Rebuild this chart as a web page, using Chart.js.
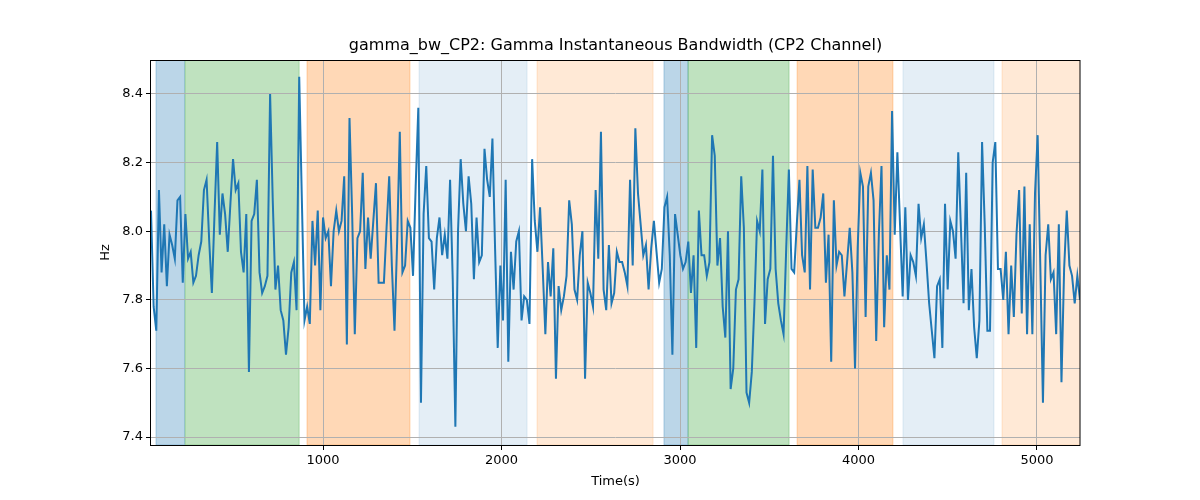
<!DOCTYPE html>
<html>
<head>
<meta charset="utf-8">
<script src="https://cdn.jsdelivr.net/npm/chart.js@4.4.0/dist/chart.umd.min.js"></script>
<style>
html,body{margin:0;padding:0;background:#fff;}
canvas{display:block;}
</style>
</head>
<body>
<canvas id="c" width="1200" height="500"></canvas>
<script>
// ---- data ----
const bwValues = [
 8.06,7.78,7.71,8.12,7.88,8.02,7.84,7.99,7.96,7.92,8.09,8.10,7.85,8.05,7.92,7.94,7.85,7.87,7.93,7.97,8.12,8.15,7.97,7.82,8.05,8.26,7.99,8.11,8.05,7.94,8.08,8.21,8.12,8.14,7.94,7.88,
 8.05,7.59,8.03,8.05,8.15,7.88,7.82,7.84,7.87,8.40,8.09,7.83,7.90,7.77,7.74,7.64,7.72,7.88,7.91,7.77,8.45,8.09,7.74,7.78,7.73,8.03,7.90,8.06,7.77,8.04,7.98,8.00,7.84,8.00,8.06,8.00,
 8.03,8.16,7.67,8.33,8.05,7.70,7.98,8.00,8.17,7.89,8.04,7.92,8.03,8.14,7.85,7.85,7.85,8.01,8.16,7.90,7.71,7.97,8.29,7.88,7.90,8.03,8.01,7.87,8.13,8.36,7.50,8.05,8.19,7.98,7.97,
 7.83,7.98,8.04,7.93,7.99,7.92,8.15,7.86,7.43,8.00,8.21,8.08,8.00,8.16,8.08,7.86,8.04,7.91,7.93,8.24,8.15,8.10,8.27,7.95,7.66,7.90,7.74,8.15,7.62,7.94,7.83,7.97,8.00,7.74,7.81,7.80,
 7.73,8.21,8.03,7.94,8.07,7.89,7.70,7.91,7.81,7.95,7.57,7.84,7.77,7.81,7.87,8.09,8.02,7.83,7.80,7.93,8.00,7.57,7.85,7.82,7.78,8.12,7.92,8.29,7.83,7.77,7.96,7.79,7.82,7.94,7.91,7.91,
 7.88,7.84,8.15,7.90,8.30,8.11,8.02,7.93,7.96,7.83,7.95,8.03,7.94,7.85,7.89,8.07,8.10,7.93,7.64,8.05,7.99,7.93,7.89,7.91,7.97,7.82,7.93,7.66,8.06,7.93,7.93,7.87,7.91,8.28,8.22,
 7.90,7.98,7.78,7.69,8.00,7.54,7.60,7.83,7.86,8.16,8.01,7.53,7.50,7.59,7.79,8.03,8.00,8.18,7.73,7.86,7.89,8.22,7.89,7.79,7.74,7.70,7.95,8.18,7.89,7.88,8.02,8.15,7.93,7.88,8.19,7.83,
 8.18,8.01,8.01,8.04,8.11,7.85,7.99,7.62,8.09,7.90,7.94,7.93,7.81,7.91,8.01,7.88,7.60,7.95,8.17,8.13,7.75,8.13,8.17,8.09,7.68,7.99,8.19,7.72,7.93,7.83,8.35,7.99,8.23,8.02,7.81,8.07,
 7.80,7.93,7.91,7.87,8.08,7.98,8.02,7.91,7.79,7.71,7.63,7.84,7.86,7.66,8.08,7.83,8.03,8.00,7.92,8.23,8.01,7.79,8.17,7.77,7.89,7.72,7.63,7.74,8.26,8.02,7.71,7.71,8.20,8.26,7.89,7.89,7.80,7.94,
 7.70,7.90,7.75,7.99,8.12,7.76,8.13,7.70,8.02,7.70,8.11,8.28,7.90,7.50,7.93,8.02,7.86,7.88,7.70,8.02,7.56,7.89,8.06,7.90,7.87,7.79,7.87,7.80
];
const timeStart = 36;     // s, first sample
const timeEnd = 5241;     // s, last sample
const xTicks = [1000, 2000, 3000, 4000, 5000];
const yTicks = [7.4, 7.6, 7.8, 8.0, 8.2, 8.4];
const yMin = 7.377, yMax = 8.499;
// shaded phases: start, end (s) and kind
const spanStarts = [64, 227, 910, 1538, 2199, 2910, 3045, 3656, 4249, 4804];
const spanEnds   = [224, 866, 1487, 2143, 2849, 3045, 3611, 4193, 4759, 5260];
const spanKinds  = ['blue','green','orange','lightblue','lightorange','blue','green','orange','lightblue','lightorange'];
const spanColors = {
  blue: 'rgba(31,119,180,0.3)',
  green: 'rgba(44,160,44,0.3)',
  orange: 'rgba(255,127,14,0.3)',
  lightblue: 'rgba(31,119,180,0.12)',
  lightorange: 'rgba(255,127,14,0.17)'
};
const titleText = 'gamma_bw_CP2: Gamma Instantaneous Bandwidth (CP2 Channel)';

const dt = (timeEnd - timeStart) / (bwValues.length - 1);
const points = bwValues.map((v, i) => ({x: timeStart + i * dt, y: v}));

const FONT = "'DejaVu Sans', sans-serif";

const spansPlugin = {
  id: 'spans',
  beforeDraw(chart) {
    const {ctx, chartArea: a, scales: {x}} = chart;
    ctx.save();
    ctx.beginPath();
    ctx.rect(a.left, a.top, a.right - a.left, a.bottom - a.top);
    ctx.clip();
    for (let i = 0; i < spanStarts.length; i++) {
      const x0 = x.getPixelForValue(spanStarts[i]);
      const x1 = x.getPixelForValue(spanEnds[i]);
      ctx.fillStyle = spanColors[spanKinds[i]];
      ctx.fillRect(x0, a.top, x1 - x0, a.bottom - a.top);
      ctx.strokeStyle = spanColors[spanKinds[i]];
      ctx.lineWidth = 1;
      ctx.strokeRect(x0, a.top, x1 - x0, a.bottom - a.top);
    }
    ctx.restore();
  },
  afterDraw(chart) {
    const {ctx, chartArea: a} = chart;
    ctx.save();
    ctx.strokeStyle = '#000';
    ctx.lineWidth = 1;
    ctx.strokeRect(Math.round(a.left) - 0.5, Math.round(a.top) + 0.5, Math.round(a.right - a.left) + 0.5, Math.round(a.bottom - a.top));
    ctx.fillStyle = '#000';
    ctx.font = "16px " + FONT;
    ctx.textAlign = 'center';
    ctx.textBaseline = 'middle';
    ctx.fillText(titleText, (a.left + a.right) / 2, 46);
    ctx.restore();
  }
};

new Chart(document.getElementById('c'), {
  type: 'line',
  data: {
    datasets: [{
      data: points,
      borderColor: '#1f77b4',
      borderWidth: 2,
      pointRadius: 0,
      tension: 0,
      fill: false
    }]
  },
  options: {
    responsive: false,
    animation: false,
    devicePixelRatio: 1,
    layout: {padding: {left: 0, right: 120, top: 60, bottom: 0}},
    plugins: {legend: {display: false}, tooltip: {enabled: false}, title: {display: false}},
    scales: {
      x: {
        type: 'linear',
        min: timeStart,
        max: timeEnd,
        afterBuildTicks(s) { s.ticks = xTicks.map(v => ({value: v})); },
        afterFit(s) { s.height = 55; },
        grid: {color: '#b0b0b0', lineWidth: 1, tickColor: '#000', tickLength: 5, drawTicks: true},
        border: {display: false},
        ticks: {autoSkip: false, maxRotation: 0, padding: 3, color: '#000', font: {family: FONT, size: 13}, callback: v => String(v)},
        title: {display: true, text: 'Time(s)', color: '#000', font: {family: FONT, size: 13}, padding: {top: 0, bottom: 11}}
      },
      y: {
        type: 'linear',
        min: yMin,
        max: yMax,
        afterBuildTicks(s) { s.ticks = yTicks.map(v => ({value: v})); },
        afterFit(s) { s.width = 151; },
        grid: {color: '#b0b0b0', lineWidth: 1, tickColor: '#000', tickLength: 5, drawTicks: true},
        border: {display: false},
        ticks: {autoSkip: false, padding: 3, color: '#000', font: {family: FONT, size: 13}, callback: v => v.toFixed(1)},
        title: {display: true, text: 'Hz', color: '#000', font: {family: FONT, size: 13}, padding: {top: 98, bottom: 0}}
      }
    }
  },
  plugins: [spansPlugin]
});
</script>
</body>
</html>
